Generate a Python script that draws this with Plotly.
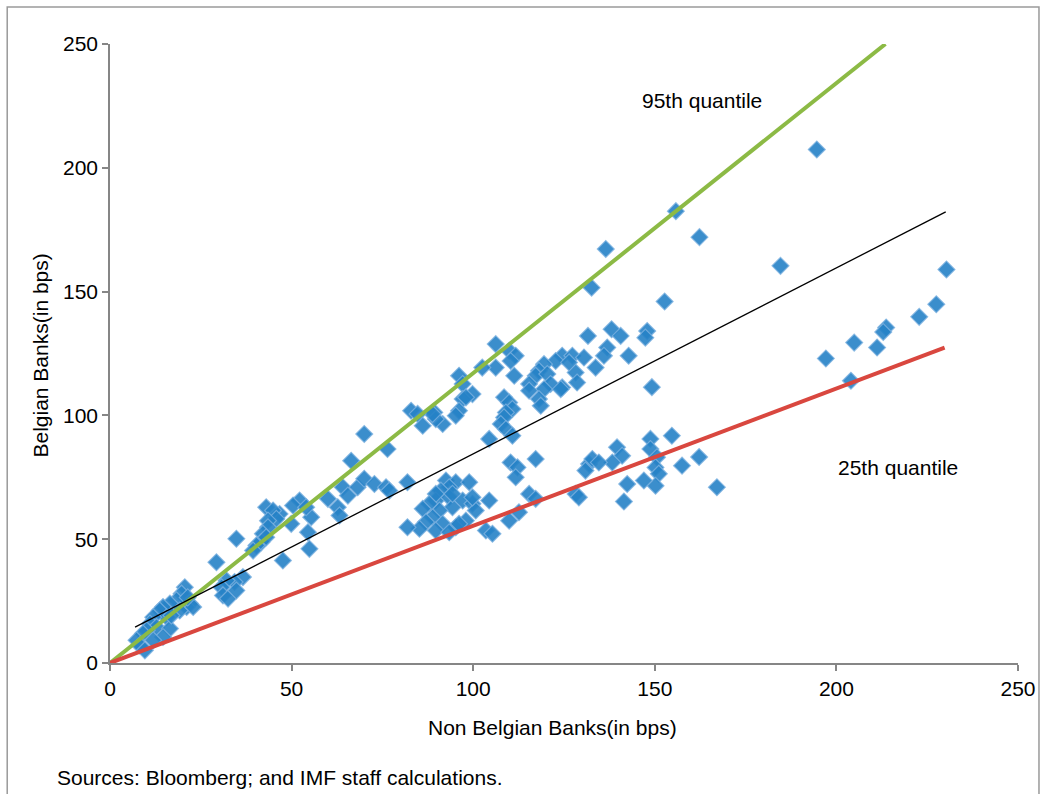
import plotly.graph_objects as go

# Scatter data: Non Belgian Banks (x) vs Belgian Banks (y), in bps
non_belgian = [
    194.6, 155.8, 162.3, 136.5, 184.6, 230.3, 132.6, 152.7, 227.5, 222.8,
    213.7, 212.9, 211.2, 204.9, 197.1, 204.0, 149.2,
    138.1, 140.6, 147.9, 147.4, 136.9, 136.0, 142.8, 131.6, 124.5, 127.3,
    130.5, 133.7, 128.2, 128.6, 124.5, 122.7, 126.4, 119.5, 118.1, 117.2,
    115.4, 120.4, 121.3, 119.5, 124.1, 118.1, 118.6, 115.4, 111.3, 106.2,
    109.9, 111.7, 110.3, 106.2, 102.5, 96.1, 97.1, 99.8, 97.1, 96.1, 95.2,
    98.0,
    108.5, 109.9, 110.8, 109.0, 108.5, 107.6, 109.0, 110.8, 104.4,
    89.3, 91.6, 89.7, 88.8, 82.9, 84.7, 86.1,
    70.0, 76.4, 66.4, 64.1, 65.5, 68.2, 70.0, 72.8, 76.0, 76.9, 81.9,
    60.0, 62.7, 63.2, 52.2, 50.4, 46.7, 55.4, 54.5, 54.9, 49.9, 47.6,
    54.0, 43.0, 44.9, 45.8, 43.5, 43.5, 42.1, 41.7, 40.3, 39.4, 43.0, 34.8,
    29.3, 36.6, 34.3, 32.1, 30.7, 31.1, 32.5, 34.8,
    20.6, 19.7, 22.0, 21.1, 18.3, 16.5, 14.6, 13.7, 15.6, 11.9, 11.0, 12.8,
    10.1, 9.1, 7.3, 8.2, 9.6, 16.5, 14.6, 11.9, 19.2, 22.9, 16.9, 21.4,
    92.5, 95.2, 98.9, 93.4, 91.1, 89.7, 93.4, 97.1, 99.8, 104.4, 100.7,
    94.3, 90.7, 88.8, 91.6, 95.2, 98.0, 103.5, 105.3, 109.9, 112.6, 89.7,
    93.4, 89.7, 87.9, 86.1, 87.0, 85.2, 81.9, 99.8, 96.1, 94.3,
    110.3, 112.2, 111.7, 117.2, 131.9, 130.9, 132.8, 139.6, 141.0, 138.3,
    142.4, 141.5, 128.2, 129.1, 115.4, 117.2,
    148.8, 148.8, 150.6, 150.2, 151.1, 150.2, 154.7, 157.5, 162.2, 167.1,
    147.0, 134.6,
]
belgian = [
    207.4, 182.5, 172.0, 167.2, 160.4, 158.9, 151.6, 146.0, 144.9, 139.8,
    135.5, 133.7, 127.4, 129.4, 123.0, 114.0, 111.4,
    134.8, 132.1, 134.1, 131.4, 127.4, 124.1, 124.1, 132.1, 124.1, 124.1,
    123.4, 119.3, 117.3, 113.3, 111.3, 122.0, 121.4, 120.7, 118.0, 116.0,
    112.7, 116.7, 112.7, 110.6, 110.6, 106.6, 103.9, 110.0, 116.0, 128.8,
    126.1, 124.1, 122.0, 119.3, 119.3, 116.0, 112.7, 108.6, 106.6, 101.9, 99.9,
    107.3,
    107.3, 105.2, 102.6, 101.2, 99.2, 96.5, 94.5, 91.8, 90.5,
    101.2, 96.5, 98.5, 100.6, 101.9, 100.6, 95.8,
    92.5, 86.4, 81.7, 71.0, 67.6, 71.0, 74.4, 72.3, 71.0, 69.6, 73.0,
    66.3, 62.9, 59.6, 65.6, 63.6, 60.2, 58.9, 52.8, 46.1, 56.2, 41.4,
    62.9, 62.9, 61.6, 58.2, 57.5, 54.8, 52.2, 48.8, 47.5, 45.4, 50.8, 50.2,
    40.7, 34.7, 32.7, 33.3, 30.6, 27.3, 26.0, 29.3,
    30.6, 28.0, 24.0, 22.6, 25.3, 24.0, 22.6, 21.2, 18.5, 18.5, 15.9, 14.5,
    13.2, 11.9, 9.2, 7.1, 5.1, 13.9, 10.5, 9.2, 21.2, 22.6, 19.2, 26.5,
    73.7, 73.0, 73.0, 71.0, 69.6, 65.6, 66.9, 65.6, 64.3, 65.6, 61.6,
    62.9, 61.6, 58.9, 56.2, 54.8, 57.5, 53.5, 52.2, 57.5, 60.9, 53.5,
    52.8, 68.3, 64.3, 62.3, 56.9, 54.2, 54.8, 66.9, 56.2, 68.3,
    81.0, 79.0, 75.0, 82.4, 80.4, 77.7, 82.4, 87.1, 83.7, 81.0,
    72.3, 65.2, 68.3, 66.9, 68.3, 66.3,
    90.5, 86.4, 83.1, 79.0, 76.4, 71.6, 91.8, 79.7, 83.2, 71.0,
    73.7, 81.0,
]

# Fitted / quantile lines (endpoints)
q95_x = [0, 213.5]
q95_y = [0, 250]
q25_x = [0, 229.8]
q25_y = [0, 127.4]
ols_x = [6.9, 230.1]
ols_y = [14.5, 182.2]

tick_vals = [0, 50, 100, 150, 200, 250]
tick_text = ["0", "50", "100", "150", "200", "250"]

FONT = "Liberation Sans, Arial, sans-serif"
FS = 21

fig = go.Figure()
fig.add_trace(go.Scatter(
    x=non_belgian, y=belgian, mode="markers",
    marker=dict(symbol="diamond", size=13, color="rgba(38,130,198,0.9)",
                line=dict(color="rgba(125,178,224,0.8)", width=1.2)),
    showlegend=False, hoverinfo="x+y"))
fig.add_trace(go.Scatter(x=q95_x, y=q95_y, mode="lines",
                         line=dict(color="#8CBA45", width=4), showlegend=False))
fig.add_trace(go.Scatter(x=q25_x, y=q25_y, mode="lines",
                         line=dict(color="#D9473F", width=4), showlegend=False))
fig.add_trace(go.Scatter(x=ols_x, y=ols_y, mode="lines",
                         line=dict(color="black", width=1.3), showlegend=False))

axis_common = dict(
    range=[0, 250], tickvals=tick_vals, ticktext=tick_text,
    showgrid=False, zeroline=False, showline=True, linecolor="#868686",
    linewidth=1.5, ticks="outside", ticklen=6, tickcolor="#868686",
    tickwidth=1.5, tickfont=dict(family=FONT, size=FS, color="black"),
)

fig.update_layout(
    width=1048, height=794,
    margin=dict(l=110, r=28, t=44, b=131),
    paper_bgcolor="white", plot_bgcolor="white",
    xaxis=dict(**axis_common),
    yaxis=dict(**axis_common),
    font=dict(family=FONT, size=FS, color="black"),
    annotations=[
        dict(text="95th quantile", x=145.9, y=227.3, xref="x", yref="y",
             xanchor="left", yanchor="middle", showarrow=False,
             font=dict(family=FONT, size=FS)),
        dict(text="25th quantile", x=200.0, y=78.9, xref="x", yref="y",
             xanchor="left", yanchor="middle", showarrow=False,
             font=dict(family=FONT, size=FS)),
        dict(text="Non Belgian Banks(in bps)", x=0.487, y=-0.104,
             xref="paper", yref="paper", xanchor="center", yanchor="middle",
             showarrow=False, font=dict(family=FONT, size=FS)),
        dict(text="Belgian Banks(in bps)", x=-0.0769, y=0.497,
             xref="paper", yref="paper", xanchor="center", yanchor="middle",
             textangle=-90, showarrow=False, font=dict(family=FONT, size=FS)),
        dict(text="Sources: Bloomberg; and IMF staff calculations.",
             x=-0.0604, y=-0.1847, xref="paper", yref="paper",
             xanchor="left", yanchor="middle", showarrow=False,
             font=dict(family=FONT, size=FS)),
    ],
    shapes=[
        dict(type="rect", xref="paper", yref="paper",
             x0=-0.1132, x1=1.0231, y0=-0.26, y1=1.0598,
             line=dict(color="#9a9a9a", width=1.5), fillcolor="rgba(0,0,0,0)",
             layer="below"),
    ],
)

fig.write_html("out.html")
